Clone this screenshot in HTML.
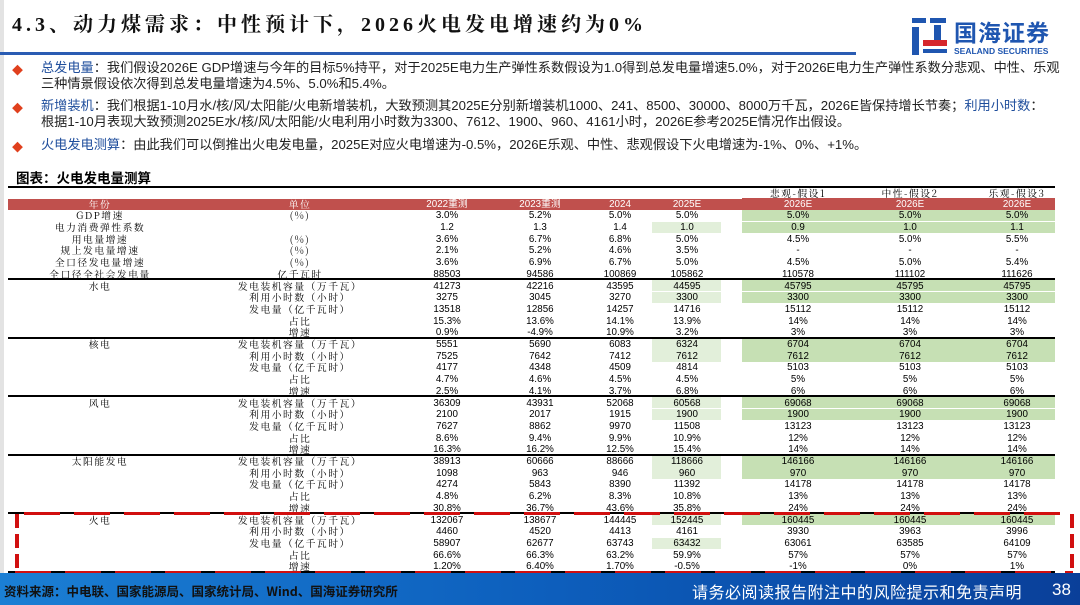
<!DOCTYPE html>
<html><head><meta charset="utf-8">
<style>
*{margin:0;padding:0;box-sizing:border-box}
body{width:1080px;height:605px;overflow:hidden;background:#fff;position:relative;font-family:"Liberation Sans","Noto Sans CJK SC",sans-serif;color:#000}
.abs{position:absolute}
.title{left:12px;top:8px;font-family:"Liberation Serif","Noto Serif CJK SC",serif;font-size:20px;font-weight:bold;letter-spacing:4px;color:#111}
.bl{left:0;top:52px;width:856px;height:3px;background:#2a5cb3}
.bul{position:absolute;left:12px;color:#e0401d;font-size:11px}
.txt{position:absolute;left:41px;font-size:13.2px;line-height:16px;color:#222;white-space:nowrap}
.txt b{color:#1f4e9c;font-weight:normal}
.cell{position:absolute;font-size:9.8px;text-align:center;white-space:nowrap;line-height:11.7px;font-family:"Liberation Sans","Noto Sans CJK SC",sans-serif}
.lab{letter-spacing:1.5px;font-family:"Noto Serif CJK SC",serif}
.footer{left:0;top:573px;width:1080px;height:32px;background:linear-gradient(90deg,#1b7fd4,#0d5fbd 50%,#0a3f99)}
</style></head><body>
<div class="abs" style="left:0;top:0;width:4px;height:605px;background:#e3e3e3"></div>
<div class="abs title">4.3、动力煤需求：中性预计下，2026火电发电增速约为0%</div>
<div class="abs bl"></div>
<div class="abs" style="left:910px;top:16px;width:150px;height:42px">
 <svg width="40" height="40" style="position:absolute;left:0;top:0"><rect x="2" y="2" width="14" height="5" fill="#1f56b0"/><rect x="20" y="2" width="16" height="5" fill="#1f56b0"/><rect x="2" y="11" width="7" height="28" fill="#1f56b0"/><rect x="24" y="9" width="7" height="15" fill="#1f56b0"/><rect x="13" y="24" width="24" height="6" fill="#d6262b"/><rect x="13" y="33" width="24" height="4" fill="#1f56b0"/></svg>
 <div style="position:absolute;left:44px;top:-2px;font-size:23px;font-weight:bold;color:#1f56b0;font-family:'Noto Sans CJK SC',sans-serif;letter-spacing:1px">国海证券</div>
 <div style="position:absolute;left:44px;top:30px;font-size:8.5px;font-weight:bold;color:#1f56b0">SEALAND SECURITIES</div>
</div>

<div class="bul" style="top:62px">◆</div>
<div class="txt" style="top:60px"><b>总发电量</b>：我们假设2026E GDP增速与今年的目标5%持平，对于2025E电力生产弹性系数假设为1.0得到总发电量增速5.0%，对于2026E电力生产弹性系数分悲观、中性、乐观<br>三种情景假设依次得到总发电量增速为4.5%、5.0%和5.4%。</div>
<div class="bul" style="top:100px">◆</div>
<div class="txt" style="top:98px"><b>新增装机</b>：我们根据1-10月水/核/风/太阳能/火电新增装机，大致预测其2025E分别新增装机1000、241、8500、30000、8000万千瓦，2026E皆保持增长节奏；<b>利用小时数</b>：<br>根据1-10月表现大致预测2025E水/核/风/太阳能/火电利用小时数为3300、7612、1900、960、4161小时，2026E参考2025E情况作出假设。</div>
<div class="bul" style="top:139px">◆</div>
<div class="txt" style="top:137px"><b>火电发电测算</b>：由此我们可以倒推出火电发电量，2025E对应火电增速为-0.5%，2026E乐观、中性、悲观假设下火电增速为-1%、0%、+1%。</div>

<div class="abs" style="left:16px;top:167px;font-size:13.5px;font-weight:bold;font-family:'Noto Sans CJK SC',sans-serif">图表：火电发电量测算</div>

<div id="tbl" class="abs" style="left:0;top:0;width:1080px;height:605px"></div>

<div class="abs footer"></div>
<div class="abs" style="left:4px;top:581px;font-size:12.5px;font-weight:bold;color:#111;font-family:'Noto Sans CJK SC',sans-serif">资料来源：中电联、国家能源局、国家统计局、Wind、国海证券研究所</div>
<div class="abs" style="left:692px;top:579px;font-size:16px;color:#fff;font-family:'Noto Sans CJK SC',sans-serif;letter-spacing:0.5px">请务必阅读报告附注中的风险提示和免责声明</div>
<div class="abs" style="left:1052px;top:580px;font-size:17px;color:#fff">38</div>

<script>
const columns=["2022重测","2023重测","2024","2025E","2026E","2026E","2026E"];
const scenarios=["悲观-假设1","中性-假设2","乐观-假设3"];
const topLabels=["GDP增速","电力消费弹性系数","用电量增速","规上发电量增速","全口径发电量增速","全口径全社会发电量"];
const topUnits=["(%)","","(%)","(%)","(%)","亿千瓦时"];
const topValues=[
["3.0%","5.2%","5.0%","5.0%","5.0%","5.0%","5.0%"],
["1.2","1.3","1.4","1.0","0.9","1.0","1.1"],
["3.6%","6.7%","6.8%","5.0%","4.5%","5.0%","5.5%"],
["2.1%","5.2%","4.6%","3.5%","-","-","-"],
["3.6%","6.9%","6.7%","5.0%","4.5%","5.0%","5.4%"],
["88503","94586","100869","105862","110578","111102","111626"]];
const groups=["水电","核电","风电","太阳能发电","火电"];
const metrics=["发电装机容量（万千瓦）","利用小时数（小时）","发电量（亿千瓦时）","占比","增速"];
const groupValues=[
[["41273","42216","43595","44595","45795","45795","45795"],["3275","3045","3270","3300","3300","3300","3300"],["13518","12856","14257","14716","15112","15112","15112"],["15.3%","13.6%","14.1%","13.9%","14%","14%","14%"],["0.9%","-4.9%","10.9%","3.2%","3%","3%","3%"]],
[["5551","5690","6083","6324","6704","6704","6704"],["7525","7642","7412","7612","7612","7612","7612"],["4177","4348","4509","4814","5103","5103","5103"],["4.7%","4.6%","4.5%","4.5%","5%","5%","5%"],["2.5%","4.1%","3.7%","6.8%","6%","6%","6%"]],
[["36309","43931","52068","60568","69068","69068","69068"],["2100","2017","1915","1900","1900","1900","1900"],["7627","8862","9970","11508","13123","13123","13123"],["8.6%","9.4%","9.9%","10.9%","12%","12%","12%"],["16.3%","16.2%","12.5%","15.4%","14%","14%","14%"]],
[["38913","60666","88666","118666","146166","146166","146166"],["1098","963","946","960","970","970","970"],["4274","5843","8390","11392","14178","14178","14178"],["4.8%","6.2%","8.3%","10.8%","13%","13%","13%"],["30.8%","36.7%","43.6%","35.8%","24%","24%","24%"]],
[["132067","138677","144445","152445","160445","160445","160445"],["4460","4520","4413","4161","3930","3963","3996"],["58907","62677","63743","63432","63061","63585","64109"],["66.6%","66.3%","63.2%","59.9%","57%","57%","57%"],["1.20%","6.40%","1.70%","-0.5%","-1%","0%","1%"]]];

const T=document.getElementById('tbl');
const colX=[447,540,620,687,798,910,1017];
const RH=11.7, Y0=209.5, TY=0.8;
function cell(txt,cx,y,w,cls,name){const d=document.createElement('div');d.className='cell '+(cls||'');d.style.left=(cx-w/2)+'px';d.style.top=(y+TY)+'px';d.style.width=w+'px';d.textContent=txt;


T.appendChild(d);return d;}
function rect(x,y,w,h,c,name){const d=document.createElement('div');d.style.cssText='position:absolute;left:'+x+'px;top:'+y+'px;width:'+w+'px;height:'+h+'px;background:'+c;


T.appendChild(d);return d;}
rect(8,186,1047,2,'#000','table-top-rule');
rect(8,199,734,11,'#c0504d','header-band-left');
rect(742,198,313,12,'#c0504d','header-band-right');
scenarios.forEach((s,i)=>cell(s,colX[4+i],187.5,110,'lab','scenario-label'));
cell('年份',100,198,80,'lab','header-year').style.color='#fff';
cell('单位',300,198,80,'lab','header-unit').style.color='#fff';
columns.forEach((c,i)=>{const d=cell(c,colX[i],198,70,'','header-col');d.style.color='#fff';});
const lightRows=[1,6,7,11,12,16,17,21,22,26,28];
const darkRows=[0,1,6,7,11,12,16,17,21,22,26];
lightRows.forEach(r=>rect(652,Y0+r*RH+0.5,69,RH-0.5,'#e2efda','highlight-2025e'));
darkRows.forEach(r=>rect(742,Y0+r*RH+0.5,313,RH-0.5,'#c6e0b4','highlight-2026e'));
topLabels.forEach((l,r)=>{const y=Y0+r*RH;cell(l,100,y,160,'lab','row-label');cell(topUnits[r],300,y,100,'lab','row-unit');
topValues[r].forEach((v,i)=>cell(v,colX[i],y,70,'','value-cell'));});
rect(8,Y0+6*RH-1.5,1047,2,'#000','section-rule');
groups.forEach((g,gi)=>{metrics.forEach((m,mi)=>{const r=6+gi*5+mi,y=Y0+r*RH;
 if(mi==0)cell(g,100,y,100,'lab','group-label');
 cell(m,300,y,200,'lab','metric-label');
 groupValues[gi][mi].forEach((v,i)=>cell(v,colX[i],y,70,'','value-cell'));});
 rect(8,Y0+(11+gi*5)*RH-1.5,1047,2,'#000','group-rule');});
const yTop=Y0+26*RH, yBot=Y0+31*RH;
function dash(horiz,x,y,len,name){const d=document.createElement('div');
 d.style.cssText='position:absolute;left:'+x+'px;top:'+y+'px;'+(horiz?'width:'+len+'px;height:3px;background:repeating-linear-gradient(90deg,#d10f0f 0 36px,transparent 36px 50px)':'width:4px;height:'+len+'px;background:repeating-linear-gradient(180deg,#d10f0f 0 14px,transparent 14px 20px)');
 
 
 T.appendChild(d);}
dash(true,24,yTop-2,1045,'thermal-box-top');
dash(true,15,yBot-1,1058,'thermal-box-bottom');
dash(false,15,yTop,yBot-yTop+2,'thermal-box-left');
dash(false,1070,yTop,yBot-yTop+2,'thermal-box-right');
</script>
</body></html>
